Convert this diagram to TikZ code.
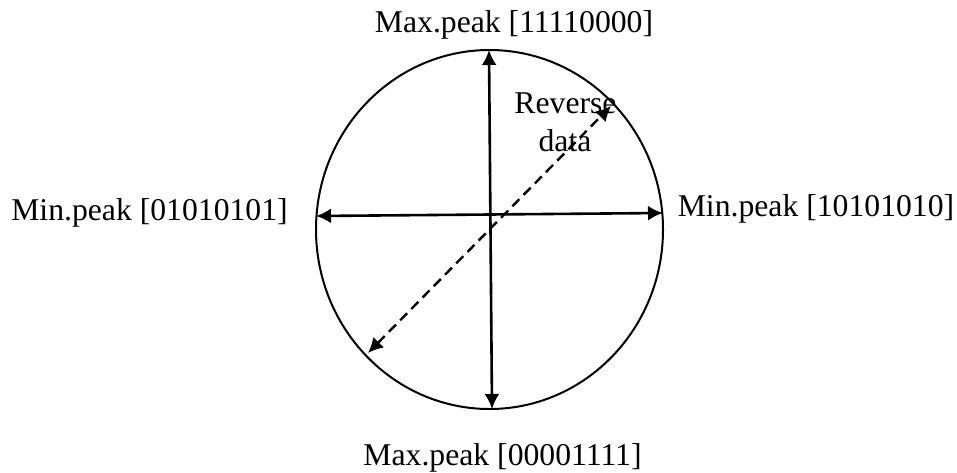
\documentclass[tikz,border=0pt]{standalone}
\usepackage{fontspec}
\setmainfont{Liberation Serif}
\usepackage{tikz}
\usetikzlibrary{arrows.meta,positioning,calc}

\begin{document}
\begin{tikzpicture}[x=1pt, y=-1pt, >={Latex[length=15pt,width=15pt]},
  lbl/.style={anchor=base, inner sep=0pt, font=\fontsize{31.7}{38}\selectfont},
  axis/.style={<->, line width=2.6pt},
  rev/.style={<->, line width=2.4pt, dash pattern=on 10pt off 6pt}]
  \useasboundingbox (0,0) rectangle (957,472);
  % the circle
  \draw[line width=2pt] (489.5,229.5) ellipse [x radius=173.5, y radius=179.5];
  % arrow ends on the circle
  \coordinate (top) at (489,50);
  \coordinate (bot) at (492,409);
  \coordinate (lft) at (316,216);
  \coordinate (rgt) at (663,213);
  \coordinate (ne) at (611,106);
  \coordinate (sw) at (368,353);
  \draw[axis](top)--(bot);
  \draw[axis](lft)--(rgt);
  \draw[rev](sw)--(ne);
  % labels
  \node[lbl] (maxtop) at (514,32) {Max.peak [11110000]};
  \node[lbl] (maxbot) at (502.5,465) {Max.peak [00001111]};
  \node[lbl] (minlft) at (149.5,220) {Min.peak [01010101]};
  \node[lbl] (minrgt) at (816,216) {Min.peak [10101010]};
  \node[lbl] (revA) at (565.5,113) {Reverse};
  \node[lbl] (revB) at (565,151) {data};
\end{tikzpicture}
\end{document}
